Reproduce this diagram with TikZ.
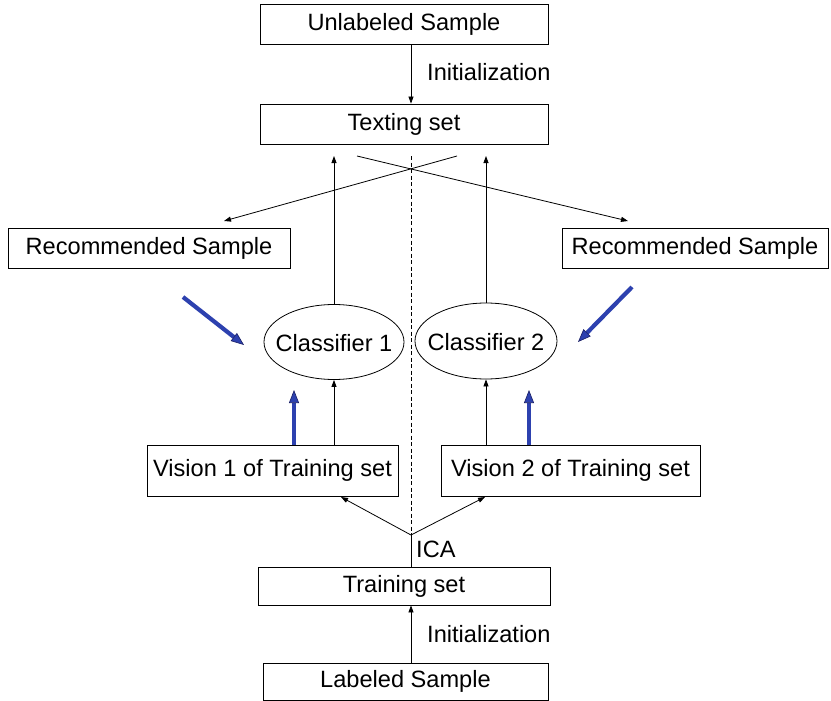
\documentclass[tikz,border=0pt]{standalone}
\usepackage{fontspec}
\setmainfont{Liberation Sans}
\usetikzlibrary{shapes.geometric,arrows.meta}
\definecolor{bluefill}{RGB}{45,65,175}
\definecolor{bluedark}{RGB}{25,30,100}
\newcommand{\zbox}[1]{\smash{\raisebox{-9.5pt}{\makebox[0pt]{#1}}}}
\begin{document}
\begin{tikzpicture}[x=1pt,y=-1pt,
  every node/.style={font=\fontsize{23.6}{28}\selectfont, inner sep=0pt},
  box/.style={draw, line width=0.8pt, rectangle},
  oval/.style={draw, line width=0.8pt, ellipse},
  arr/.style={line width=0.8pt, -{Triangle[length=7pt,width=5pt]}},
  plain/.style={line width=0.8pt},
  bluearr/.style={line width=4.2pt, draw=bluefill, -{Triangle[length=13pt,width=10pt,fill=bluefill,color=bluedark,line width=0.6pt]}},
  lbl/.style={anchor=west}]
\useasboundingbox (0,0) rectangle (831,701);
% boxes
\node[box, minimum width=288pt, minimum height=40pt] (unl) at (404,24) {Unlabeled Sample};
\node[box, minimum width=288pt, minimum height=40pt] (tex) at (404,124) {Texting set};
\node[box, minimum width=282pt, minimum height=40pt] (recL) at (149,248) {Recommended Sample};
\node[box, minimum width=266pt, minimum height=40pt] (recR) at (695,248) {Recommended Sample};
\node[oval, minimum width=140pt, minimum height=75pt] (c1) at (334,342) {\zbox{Classifier 1}};
\node[oval, minimum width=142pt, minimum height=76pt] (c2) at (486,341) {\zbox{Classifier 2}};
\node[box, minimum width=251pt, minimum height=51pt] (v1) at (272.5,470.5) {Vision 1 of Training set};
\node[box, minimum width=259pt, minimum height=51pt] (v2) at (570.5,470.5) {Vision 2 of Training set};
\node[box, minimum width=292pt, minimum height=38pt] (trn) at (404,586) {Training set};
\node[box, minimum width=285pt, minimum height=37pt] (lab) at (405.5,681.5) {Labeled Sample};
% coordinates
\coordinate (jn) at (411,535);
\coordinate (top) at (411,156);
\coordinate (xa) at (357,156);
\coordinate (xb) at (457,156);
\coordinate (tipL) at (224,221);
\coordinate (tipR) at (628,221);
\coordinate (t1) at (341,497);
\coordinate (t2) at (485,497);
\coordinate (bl1s) at (183,297);
\coordinate (bl1e) at (244,345);
\coordinate (bl2s) at (632,287);
\coordinate (bl2e) at (578,342);
\coordinate (bv1s) at (294,445);
\coordinate (bv1e) at (294,390);
\coordinate (bv2s) at (529,445);
\coordinate (bv2e) at (529,390);
% dashed divider
\draw[line width=0.7pt, dash pattern=on 4pt off 2.5pt] (top) -- (jn);
% initialization arrows
\draw[arr] (unl.south -| jn) -- (tex.north -| jn);
\draw[arr] (lab.north -| jn) -- (trn.south -| jn);
% crossing lines
\draw[arr] (xa) -- (tipR);
\draw[arr] (xb) -- (tipL);
% classifier to texting set
\draw[arr] (c1.north) -- (c1.north |- top);
\draw[arr] (c2.north) -- (c2.north |- top);
% vision to classifier
\draw[arr] (v1.north -| c1.south) -- (c1.south);
\draw[arr] (v2.north -| c2.south) -- (c2.south);
% ICA
\draw[plain] (trn.north -| jn) -- (jn);
\draw[arr] (jn) -- (t1);
\draw[arr] (jn) -- (t2);
% blue arrows
\draw[bluearr] (bv1s) -- (bv1e);
\draw[bluearr] (bv2s) -- (bv2e);
\draw[bluearr] (bl1s) -- (bl1e);
\draw[bluearr] (bl2s) -- (bl2e);
% labels
\node[lbl] (l1) at (427,72) {Initialization};
\node[lbl] (l2) at (416,549) {ICA};
\node[lbl] (l3) at (427,634) {Initialization};
\end{tikzpicture}
\end{document}
